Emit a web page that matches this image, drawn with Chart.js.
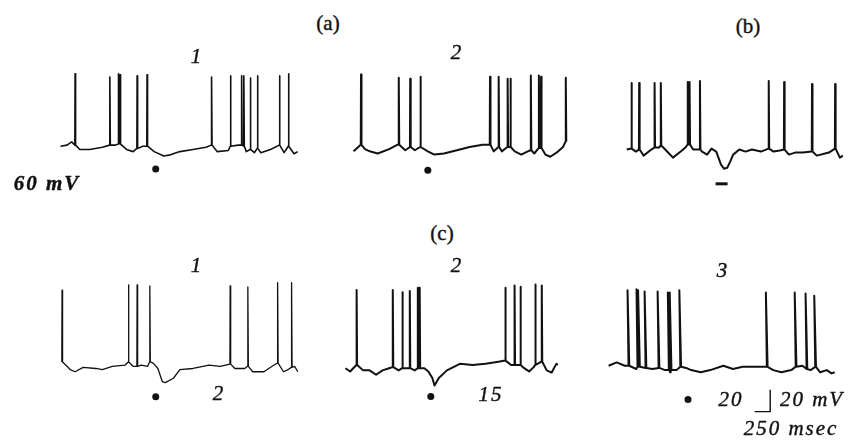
<!DOCTYPE html>
<html>
<head>
<meta charset="utf-8">
<script src="https://cdn.jsdelivr.net/npm/chart.js@4.4.1/dist/chart.umd.min.js"></script>
<style>
  html, body { margin: 0; padding: 0; background: #fff; }
  #page { position: relative; width: 855px; height: 441px; overflow: hidden; background: #fff; }
  canvas { position: absolute; }
  .lbl { position: absolute; transform: translate(-50%, -50%); white-space: nowrap;
         font-family: "Liberation Serif", "DejaVu Serif", serif; font-size: 21px; color: #111;
         -webkit-text-stroke: 0.4px #111; }
  .it { font-style: italic; letter-spacing: 2px; }
</style>
</head>
<body>
<div id="page"></div>
<script>
// scale of the original recording: 250 msec = 16 px, 20 mV = 23 px
const SCALE_MS = 250;
const SCALE_MV = 20;
const MS_PER_PX = SCALE_MS / 16;
const MV_PER_PX = SCALE_MV / 23;
const REST = -60;
const INK = '#111';

// (a) 1 - membrane potential between spikes (ms, mV)
const a1BaseT = [105, 210, 285, 415, 575, 780, 990, 1170, 1275, 1355, 1430, 1615, 1770, 1875, 2030, 2240, 2450, 2630, 2810, 2970, 3100, 3230, 3335, 3490, 3710, 3870, 3930];
const a1BaseV = [-58, -57, -54, -61, -61, -59, -57, -61, -63, -60, -58, -63, -67, -66, -63, -61, -59, -63, -62, -57, -63, -64, -64, -61, -64, -65, -63];
const a1SpikeT = [340, 900, 1040, 1065, 1340, 1500, 2540, 2845, 3025, 3060, 3165, 3280, 3635, 3780];
const a1SpikeFoot = [-57, -57, -56, -56, -60, -58, -57, -58, -57, -58, -61, -60, -57, -58];
const a1SpikePeak = [9, 6, 9, 8, 7, 8, 6, 7, 7, 7, 5, 7, 7, 9];
const a1Stim = [1640];

// (a) 2
const a2BaseT = [155, 340, 415, 545, 730, 860, 990, 1145, 1355, 1460, 1615, 1825, 2030, 2240, 2420, 2550, 2760, 2865, 2970, 3075, 3255, 3335, 3440, 3540, 3595];
const a2BaseV = [-61, -59, -61, -63, -59, -55, -60, -60, -61, -64, -63, -60, -57, -55, -61, -61, -61, -64, -61, -63, -64, -66, -62, -57, -52];
const a2SpikeT = [275, 885, 1070, 1235, 2360, 2500, 2645, 2690, 3020, 3150, 3185, 3585];
const a2SpikeFoot = [-55, -55, -57, -57, -55, -57, -57, -57, -60, -58, -58, -52];
const a2SpikePeak = [10, 7, 6, 8, 8, 8, 6, 6, 9, 9, 8, 7];
const a2Stim = [1355];

// (b)
const bBaseT = [130, 285, 415, 545, 675, 780, 910, 1040, 1120, 1250, 1400, 1485, 1560, 1640, 1720, 1770, 1825, 1875, 1925, 2030, 2135, 2240, 2395, 2605, 2710, 2865, 2970, 3100, 3335, 3540, 3725, 3775];
const bBaseV = [-58, -60, -64, -58, -56, -58, -66, -60, -56, -58, -60, -63, -57, -60, -73, -77, -76, -70, -63, -58, -60, -58, -60, -60, -59, -63, -61, -61, -64, -61, -66, -64];
const bSpikeT = [210, 340, 600, 705, 1160, 1190, 1365, 2525, 2785, 3255, 3645];
const bSpikeFoot = [-57, -58, -56, -54, -53, -53, -58, -57, -58, -60, -57];
const bSpikePeak = [8, 8, 8, 8, 9, 9, 10, 10, 9, 7, 7];
const bStim = [1730];

// (c) 1
const c1BaseT = [210, 260, 340, 470, 675, 780, 940, 1145, 1275, 1405, 1510, 1600, 1675, 1745, 1795, 1925, 2030, 2240, 2500, 2680, 2915, 3075, 3205, 3385, 3540, 3700, 3775, 3880, 3930];
const c1BaseV = [-58, -61, -63, -59, -60, -61, -58, -57, -58, -57, -58, -55, -60, -72, -73, -69, -61, -60, -57, -58, -60, -60, -63, -63, -57, -63, -61, -58, -63];
const c1SpikeT = [130, 1200, 1340, 1545, 2840, 3125, 3605, 3830];
const c1SpikeFoot = [-54, -54, -58, -54, -56, -58, -55, -59];
const c1SpikePeak = [12, 17, 17, 16, 16, 15, 19, 19];
const c1Stim = [1640];

// (c) 2
const c2BaseT = [105, 180, 390, 495, 600, 705, 810, 965, 1095, 1225, 1380, 1445, 1510, 1545, 1615, 1745, 1955, 2160, 2370, 2580, 2785, 2995, 3075, 3150, 3360, 3440, 3515, 3540];
const c2BaseV = [-58, -61, -60, -60, -64, -60, -58, -60, -58, -60, -58, -61, -67, -74, -67, -60, -54, -55, -54, -52, -55, -58, -61, -57, -60, -62, -54, -55];
const c2SpikeT = [285, 870, 1025, 1145, 1275, 1305, 2690, 2840, 2935, 3175, 3280];
const c2SpikeFoot = [-55, -57, -58, -58, -58, -58, -51, -55, -55, -55, -52];
const c2SpikePeak = [14, 14, 12, 13, 16, 16, 16, 18, 17, 19, 18];
const c2Stim = [1485];

// (c) 3
const c3BaseT = [155, 285, 415, 600, 860, 1065, 1145, 1250, 1405, 1485, 1640, 1795, 2005, 2160, 2315, 2475, 2630, 2810, 2940, 3100, 3280, 3410, 3565, 3670, 3750, 3800];
const c3BaseV = [-57, -54, -57, -60, -60, -61, -63, -61, -59, -61, -63, -61, -57, -60, -58, -58, -58, -61, -63, -61, -57, -61, -63, -61, -64, -63];
const c3SpikeT = [480, 625, 650, 755, 965, 1130, 1160, 1315, 2710, 3175, 3350, 3490];
const c3SpikeFoot = [-57, -58, -58, -59, -59, -61, -61, -58, -58, -58, -60, -58];
const c3SpikePeak = [12, 13, 12, 11, 11, 10, 10, 12, 10, 10, 9, 7];
const c3Stim = [1435];

// merge the slow trace with the spikes; tilt leans the spike tops back a little
function buildTrace(baseT, baseV, spikeT, spikeFoot, spikePeak, tilt) {
    const pts = baseT.map((t, i) => ({ x: t, y: baseV[i], k: t }));
    spikeT.forEach((t, i) => {
        pts.push({ x: t - 4, y: spikeFoot[i], k: t - 4 });
        pts.push({ x: t - tilt, y: spikePeak[i], k: t - 3 });
        pts.push({ x: t + 8, y: spikeFoot[i], k: t + 8 });
    });
    pts.sort((p, q) => p.k - q.k);   // keep the drawing order, not the x order
    return pts;
}

const page = document.getElementById('page');

// one small chart per trace, placed where the trace sits in the figure
function drawPanel(box, trace, stim, opts) {
    const cv = document.createElement('canvas');
    cv.width = box.w;
    cv.height = box.h;
    cv.style.left = box.left + 'px';
    cv.style.top = box.top + 'px';
    page.appendChild(cv);

    const datasets = [{
        data: trace,
        borderColor: INK,
        borderWidth: opts.lw,
        pointRadius: 0,
        tension: 0,
        borderJoinStyle: 'round',
    }, {
        data: stim.map(t => ({ x: t, y: box.markV })),
        showLine: false,
        pointStyle: opts.markStyle || 'circle',
        pointRadius: opts.markStyle ? 6 : 3.5,
        pointBorderWidth: opts.markStyle ? 3 : 0,
        pointBackgroundColor: INK,
        pointBorderColor: INK,
    }];
    if (opts.scaleBar) {
        const s = opts.scaleBar;
        datasets.push({
            data: [{ x: s.t - SCALE_MS, y: s.v }, { x: s.t, y: s.v }, { x: s.t, y: s.v + SCALE_MV }],
            borderColor: INK,
            borderWidth: 1.4,
            pointRadius: 0,
        });
    }

    new Chart(cv, {
        type: 'line',
        data: { datasets },
        options: {
            responsive: false,
            animation: false,
            events: [],
            layout: { padding: 0 },
            plugins: { legend: { display: false }, tooltip: { enabled: false } },
            scales: {
                x: { type: 'linear', display: false, min: 0, max: box.w * MS_PER_PX },
                y: {
                    display: false,
                    min: REST - (box.top + box.h - box.base) * MV_PER_PX,
                    max: REST + (box.base - box.top) * MV_PER_PX,
                }
            }
        }
    });
}

drawPanel({ left: 50, top: 55, w: 260, h: 135, base: 150, markV: -79 },
    buildTrace(a1BaseT, a1BaseV, a1SpikeT, a1SpikeFoot, a1SpikePeak, 0), a1Stim, { lw: 1.6 });
drawPanel({ left: 340, top: 55, w: 240, h: 135, base: 152, markV: -78.5 },
    buildTrace(a2BaseT, a2BaseV, a2SpikeT, a2SpikeFoot, a2SpikePeak, 0), a2Stim, { lw: 2 });
drawPanel({ left: 610, top: 55, w: 245, h: 145, base: 155, markV: -92 },
    buildTrace(bBaseT, bBaseV, bSpikeT, bSpikeFoot, bSpikePeak, 0), bStim, { lw: 2, markStyle: 'line' });
drawPanel({ left: 50, top: 270, w: 260, h: 145, base: 370, markV: -86 },
    buildTrace(c1BaseT, c1BaseV, c1SpikeT, c1SpikeFoot, c1SpikePeak, 0), c1Stim, { lw: 1.3 });
drawPanel({ left: 335, top: 270, w: 235, h: 145, base: 372, markV: -84 },
    buildTrace(c2BaseT, c2BaseV, c2SpikeT, c2SpikeFoot, c2SpikePeak, 0), c2Stim, { lw: 2 });
drawPanel({ left: 595, top: 270, w: 260, h: 160, base: 370, markV: -88 },
    buildTrace(c3BaseT, c3BaseV, c3SpikeT, c3SpikeFoot, c3SpikePeak, 20), c3Stim,
    { lw: 2, scaleBar: { t: 2760, v: -99 } });

// figure lettering
const labels = [
    { t: '(a)', x: 328, y: 23, cls: '' },
    { t: '(b)', x: 748, y: 26, cls: '' },
    { t: '(c)', x: 442, y: 233, cls: '' },
    { t: '1', x: 197, y: 56, cls: 'it' },
    { t: '2', x: 457, y: 52, cls: 'it' },
    { t: '60 mV', x: 47, y: 183, cls: 'it', bold: true },
    { t: '1', x: 197, y: 265, cls: 'it' },
    { t: '2', x: 457, y: 265, cls: 'it' },
    { t: '3', x: 723, y: 270, cls: 'it' },
    { t: '2', x: 219, y: 393, cls: 'it' },
    { t: '15', x: 491, y: 394, cls: 'it' },
    { t: '20', x: 731, y: 399, cls: 'it' },
    { t: '20 mV', x: 812, y: 399, cls: 'it' },
    { t: '250 msec', x: 791, y: 428, cls: 'it' },
];
labels.forEach(l => {
    const d = document.createElement('div');
    d.className = 'lbl ' + l.cls;
    d.textContent = l.t;
    d.style.left = l.x + 'px';
    d.style.top = l.y + 'px';
    if (l.bold) d.style.fontWeight = 'bold';
    page.appendChild(d);
});
</script>
</body>
</html>
